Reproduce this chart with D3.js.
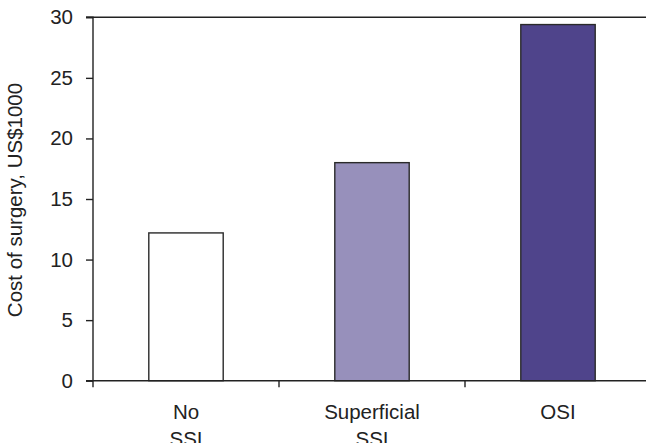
<!DOCTYPE html>
<html>
<head>
<meta charset="utf-8">
<script src="https://cdn.jsdelivr.net/npm/d3@7"></script>
<style>
  html, body { margin: 0; padding: 0; background: #fff; }
  svg { display: block; }
  text { font-family: "Liberation Sans", Arial, sans-serif; fill: #222; }
</style>
</head>
<body>
<svg id="chart" width="646" height="443"></svg>
<script>
const categories = ["No SSI", "Superficial SSI", "OSI"];
const categoryLines = [["No", "SSI"], ["Superficial", "SSI"], ["OSI"]];
const costValues = [12.2, 18.0, 29.4];
const barColors = ["#ffffff", "#9790bb", "#4f448b"];
const yTicks = [0, 5, 10, 15, 20, 25, 30];
const yLabel = "Cost of surgery, US$1000";

(function () {
const svg = d3.select("#chart");
const pLeft = 93, pRight = 651, pTop = 17.3, pBottom = 380.7;
const fontSize = 20.5;

const y = d3.scaleLinear().domain([0, 30]).range([pBottom, pTop]);
const x = d3.scaleBand().domain(categories).range([pLeft, pRight])
  .paddingInner(0.6).paddingOuter(0.3);

const axisColor = "#222";

// bars
svg.append("g").selectAll("rect").data(categories).join("rect")
  .attr("x", d => x(d))
  .attr("width", x.bandwidth())
  .attr("y", (d, i) => y(costValues[i]))
  .attr("height", (d, i) => y(0) - y(costValues[i]))
  .attr("fill", (d, i) => barColors[i])
  .attr("stroke", "#2a2a2a")
  .attr("stroke-width", 1.4);

// top line at max
svg.append("line")
  .attr("x1", pLeft - 7).attr("x2", 646)
  .attr("y1", y(30)).attr("y2", y(30))
  .attr("stroke", axisColor).attr("stroke-width", 1.4);

// y axis
const yAxis = d3.axisLeft(y).tickValues(yTicks).tickSize(7).tickPadding(13).tickFormat(d3.format("d"));
const gy = svg.append("g").attr("transform", `translate(${pLeft},0)`).call(yAxis);
gy.select(".domain").attr("stroke", axisColor).attr("stroke-width", 1.4)
  .attr("d", `M-7,${y(30)}H0V${pBottom}`);
gy.selectAll(".tick line").attr("stroke", axisColor).attr("stroke-width", 1.4);
gy.selectAll(".tick text").attr("font-size", fontSize)
  .attr("font-family", "Liberation Sans, Arial, sans-serif").attr("fill", "#222");

// x axis line
svg.append("line")
  .attr("x1", pLeft - 7).attr("x2", 646)
  .attr("y1", pBottom).attr("y2", pBottom)
  .attr("stroke", axisColor).attr("stroke-width", 1.4);

// x ticks at band boundaries
const boundaries = categories.map(c => x(c) - x.step() * 0.3).concat([pRight]);
svg.append("g").selectAll("line").data(boundaries).join("line")
  .attr("x1", d => d).attr("x2", d => d)
  .attr("y1", pBottom).attr("y2", pBottom + 6.5)
  .attr("stroke", axisColor).attr("stroke-width", 1.4);

// x labels
const xl = svg.append("g").selectAll("text").data(categories).join("text")
  .attr("text-anchor", "middle")
  .attr("font-size", fontSize)
  .attr("x", d => x(d) + x.bandwidth() / 2)
  .attr("y", 418.5);
xl.each(function(d, i) {
  const t = d3.select(this);
  categoryLines[i].forEach((ln, j) => {
    t.append("tspan").attr("x", x(d) + x.bandwidth() / 2)
      .attr("dy", j === 0 ? 0 : 27.5).text(ln);
  });
});

// y label
svg.append("text")
  .attr("transform", `translate(22,${(pTop + pBottom) / 2 + 1}) rotate(-90)`)
  .attr("text-anchor", "middle")
  .attr("font-size", fontSize)
  .text(yLabel);
})();
</script>
</body>
</html>
